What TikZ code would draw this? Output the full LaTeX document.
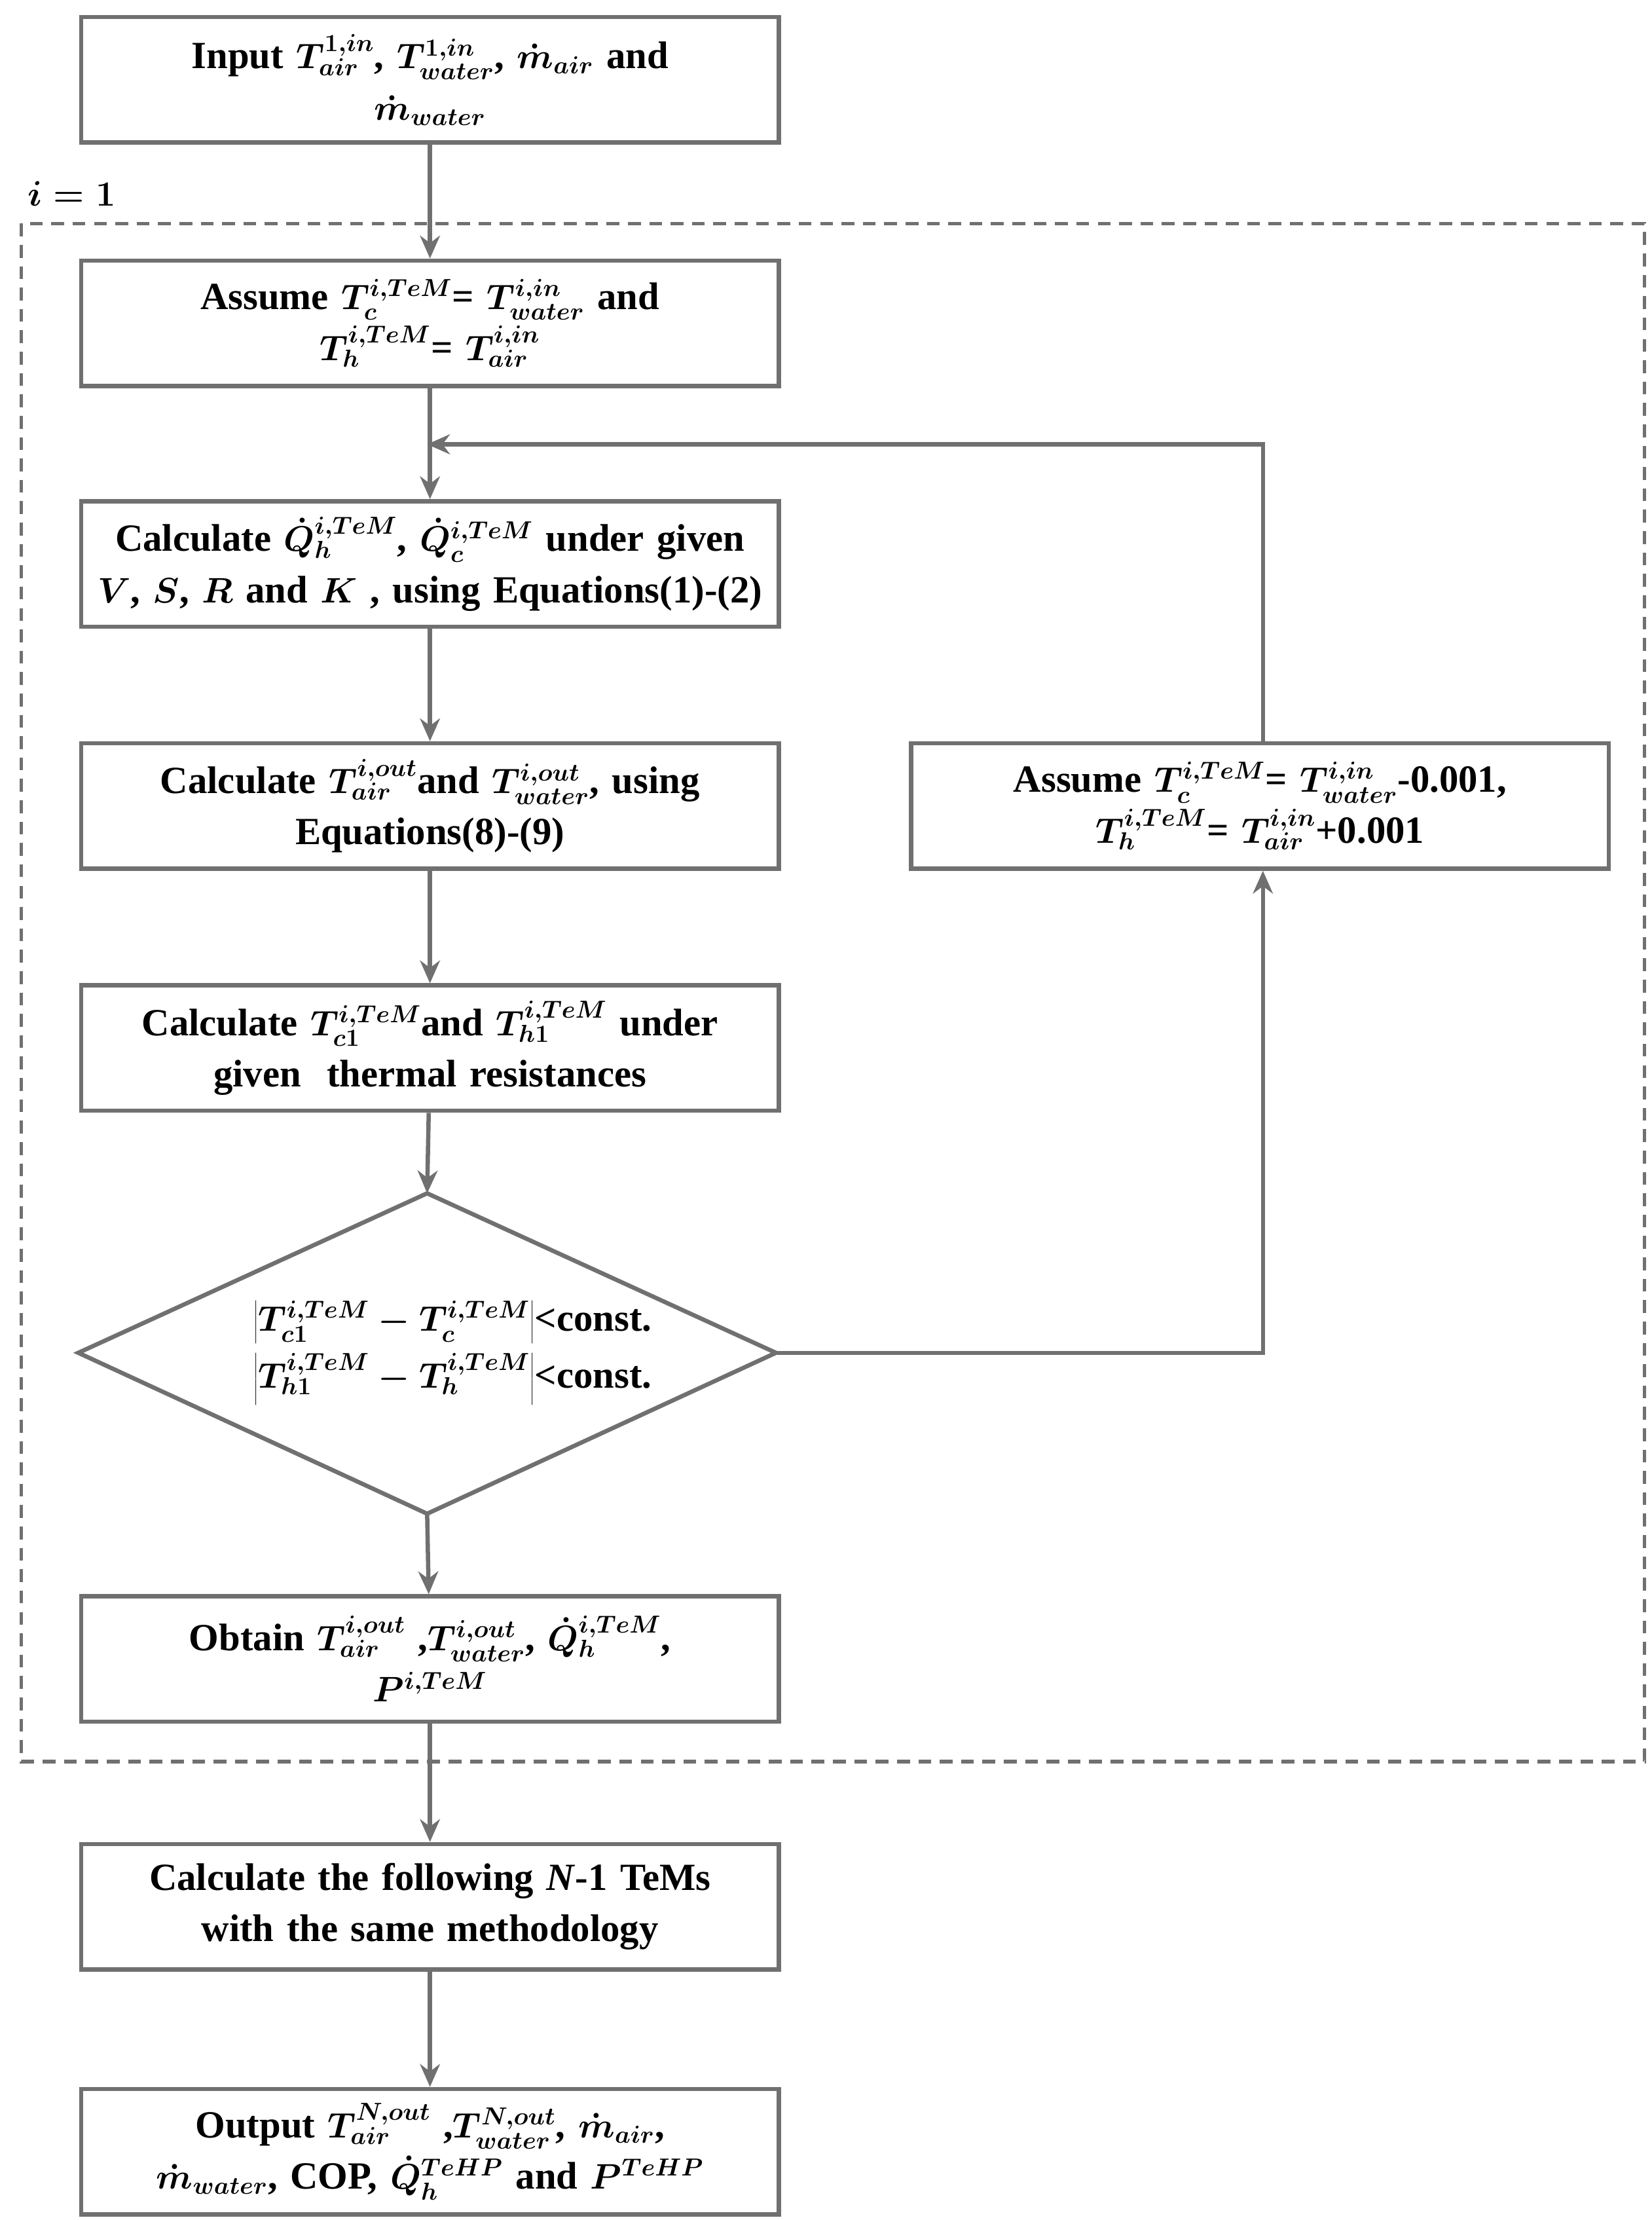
\documentclass[tikz,border=0pt]{standalone}
\usepackage{fontspec}
\setmainfont{Liberation Serif}
\usetikzlibrary{arrows.meta}
\begin{document}
\definecolor{gl}{RGB}{112,112,112}
\begin{tikzpicture}[x=1pt,y=-1pt,
  box/.style={draw=gl,line width=3pt,minimum width=490pt,minimum height=88pt,align=center,text width=480pt,font=\fontsize{27}{36}\selectfont\bfseries\boldmath,inner sep=1pt},
  arr/.style={draw=gl,line width=3pt,-{Stealth[length=16pt,width=14pt]}},
  ln/.style={draw=gl,line width=3pt}]
\useasboundingbox (0,0) rectangle (1160,1559);
\draw[gl,line width=2.5pt,dash pattern=on 9pt off 6pt] (15,157) rectangle (1155,1237);
\node[font=\fontsize{29}{32}\selectfont\bfseries\boldmath,anchor=west] (i1) at (16,136) {$i=1$};
\node[box] (b1) at (302,56) {Input $T_{air}^{1,in}$, $T_{water}^{1,in}$, $\dot m_{air}$ and\\ $\dot m_{water}$};
\node[box] (b2) at (302,227) {Assume $T_{c}^{i,TeM}$= $T_{water}^{i,in}$ and\\ $T_{h}^{i,TeM}$= $T_{air}^{i,in}$};
\node[box] (b3) at (302,396) {Calculate $\dot Q_{h}^{i,TeM}$, $\dot Q_{c}^{i,TeM}$ under given\\ $V$, $S$, $R$ and $K$ , using Equations(1)-(2)};
\node[box] (b4) at (302,566) {Calculate $T_{air}^{i,out}$and $T_{water}^{i,out}$, using\\ Equations(8)-(9)};
\node[box] (b5) at (885,566) {Assume $T_{c}^{i,TeM}$= $T_{water}^{i,in}$-0.001,\\ $T_{h}^{i,TeM}$= $T_{air}^{i,in}$+0.001};
\node[box] (b6) at (302,736) {Calculate $T_{c1}^{i,TeM}$and $T_{h1}^{i,TeM}$ under\\ given\ \ thermal resistances};
\coordinate (dt) at (300,838);
\coordinate (db) at (300,1063);
\coordinate (dl) at (55,950);
\coordinate (dr) at (545,950);
\draw[ln] (dt) -- (dr) -- (db) -- (dl) -- cycle;
\node[font=\fontsize{27}{36}\selectfont\bfseries\boldmath,align=left] (dtext) at (318,950) {$\left|T_{c1}^{i,TeM}-T_{c}^{i,TeM}\right|$<const.\\[4pt] $\left|T_{h1}^{i,TeM}-T_{h}^{i,TeM}\right|$<const.};
\node[box] (b7) at (302,1165) {Obtain $T_{air}^{i,out}$ ,$T_{water}^{i,out}$, $\dot Q_{h}^{i,TeM}$,\\ $P^{i,TeM}$};
\node[box] (b8) at (302,1339) {Calculate the following \textit{N}-1 TeMs\\ with the same methodology};
\node[box] (b9) at (302,1511) {Output $T_{air}^{N,out}$ ,$T_{water}^{N,out}$, $\dot m_{air}$,\\ $\dot m_{water}$, COP, $\dot Q_{h}^{TeHP}$ and $P^{TeHP}$};
\coordinate (lp) at (300,312);
\coordinate (rc) at (887,312);
\coordinate (rb) at (887,950);
\draw[arr] (b1) -- (b2);
\draw[arr] (b2) -- (b3);
\draw[arr] (b3) -- (b4);
\draw[arr] (b4) -- (b6);
\draw[arr] (b6) -- (dt);
\draw[arr] (db) -- (b7);
\draw[arr] (b7) -- (b8);
\draw[arr] (b8) -- (b9);
\draw[arr] (dr) -- (rb) -- (b5.south -| rb);
\draw[arr] (b5.north -| rc) -- (rc) -- (lp);
\end{tikzpicture}
\end{document}
